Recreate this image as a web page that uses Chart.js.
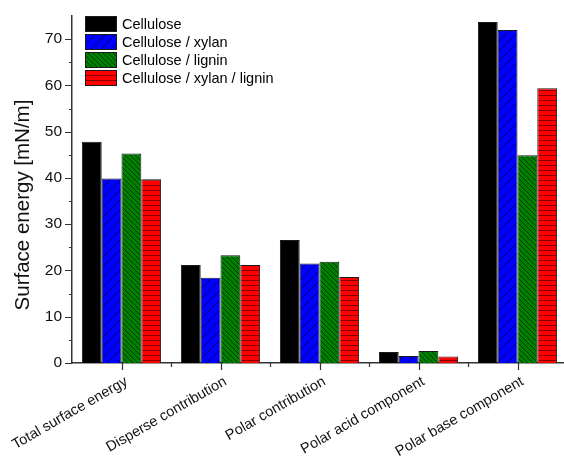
<!DOCTYPE html>
<html>
<head>
<meta charset="utf-8">
<script src="https://cdn.jsdelivr.net/npm/chart.js@4.4.1/dist/chart.umd.min.js"></script>
<style>
  html, body { margin: 0; padding: 0; background: #fff; overflow: hidden; }
  #chart { display: block; }
</style>
</head>
<body>
<canvas id="chart" width="567" height="458"></canvas>
<script>
// 카테고리 / 시리즈 데이터
const categories = ['Total surface energy', 'Disperse contribution', 'Polar contribution', 'Polar acid component', 'Polar base component'];
const seriesNames = ['Cellulose', 'Cellulose / xylan', 'Cellulose / lignin', 'Cellulose / xylan / lignin'];
const cellulose = [47.8, 21.2, 26.6, 2.4, 73.7];
const celluloseXylan = [39.9, 18.4, 21.5, 1.5, 72.0];
const celluloseLignin = [45.3, 23.3, 21.9, 2.6, 44.9];
const celluloseXylanLignin = [39.7, 21.2, 18.6, 1.4, 59.4];
const yTicks = [0, 10, 20, 30, 40, 50, 60, 70];
const yTitle = 'Surface energy [mN/m]';

const FONT = 'Liberation Sans, Arial, sans-serif';

/**
 * 해칭 패턴 생성
 */
function makePattern(bg, kind) {
    const size = kind === 'fwd' ? 10 : 5;
    const c = document.createElement('canvas');
    c.width = size;
    c.height = size;
    const g = c.getContext('2d');
    g.fillStyle = bg;
    g.fillRect(0, 0, size, size);
    g.lineWidth = 1;
    if (kind === 'fwd') {
        g.strokeStyle = 'rgba(0,0,40,0.75)';
        g.beginPath();
        g.moveTo(-1, size + 1); g.lineTo(size + 1, -1);
        g.moveTo(-1, 1); g.lineTo(1, -1);
        g.moveTo(size - 1, size + 1); g.lineTo(size + 1, size - 1);
        g.stroke();
    } else if (kind === 'back') {
        g.strokeStyle = 'rgba(0,30,0,0.7)';
        g.beginPath();
        g.moveTo(-1, -1); g.lineTo(size + 1, size + 1);
        g.moveTo(size - 1, -1); g.lineTo(size + 1, 1);
        g.moveTo(-1, size - 1); g.lineTo(1, size + 1);
        g.stroke();
    } else if (kind === 'horiz') {
        g.fillStyle = 'rgba(90,0,0,0.75)';
        g.fillRect(0, 0, size, 1);
    }
    return g.createPattern(c, 'repeat');
}

const ctx = document.getElementById('chart').getContext('2d');
const fills = [
    '#000000',
    makePattern('#0000ff', 'fwd'),
    makePattern('#008000', 'back'),
    makePattern('#ff0000', 'horiz')
];
const seriesValues = [cellulose, celluloseXylan, celluloseLignin, celluloseXylanLignin];

const datasets = seriesNames.map((name, i) => ({
    label: name,
    data: seriesValues[i],
    backgroundColor: fills[i],
    borderColor: '#1a1a1a',
    borderWidth: 1,
    borderSkipped: 'bottom',
    categoryPercentage: 0.8,
    barPercentage: 1.0
}));

// 축 눈금 (주/보조) + y축 제목 그리기
const axisPlugin = {
    id: 'axisTicks',
    afterDraw(chart) {
        const c = chart.ctx;
        const x = chart.scales.x;
        const y = chart.scales.y;
        const area = chart.chartArea;
        c.save();
        c.strokeStyle = '#333';
        c.lineWidth = 1.2;
        c.beginPath();
        for (let v = 0; v <= 70; v += 5) {
            const py = Math.round(y.getPixelForValue(v)) + 0.5;
            const len = v % 10 === 0 ? 7 : 3;
            c.moveTo(area.left, py);
            c.lineTo(area.left - len, py);
        }
        for (let i = 0; i < categories.length; i++) {
            const px = Math.round(x.getPixelForValue(i)) + 0.5;
            c.moveTo(px, area.bottom);
            c.lineTo(px, area.bottom + 7);
            const bx = Math.round(x.getPixelForValue(i + 0.5)) + 0.5;
            c.moveTo(bx, area.bottom);
            c.lineTo(bx, area.bottom + 4);
        }
        c.stroke();

        // y축 제목
        c.translate(23, 205);
        c.rotate(-Math.PI / 2);
        c.font = '20.5px ' + FONT;
        c.fillStyle = '#111';
        c.textAlign = 'center';
        c.textBaseline = 'middle';
        c.fillText(yTitle, 0, 0);
        c.restore();
    }
};

// 플롯 내부 범례
const legendPlugin = {
    id: 'insideLegend',
    afterDraw(chart) {
        const c = chart.ctx;
        const area = chart.chartArea;
        const x0 = area.left + 13;
        let y0 = area.top;
        c.save();
        c.font = '14.5px ' + FONT;
        c.textBaseline = 'middle';
        chart.data.datasets.forEach((ds) => {
            c.fillStyle = ds.backgroundColor;
            c.fillRect(x0, y0, 32, 16);
            c.strokeStyle = '#1a1a1a';
            c.lineWidth = 1;
            c.strokeRect(x0 + 0.5, y0 + 0.5, 31, 15);
            c.fillStyle = '#000';
            c.fillText(ds.label, x0 + 37, y0 + 8.5);
            y0 += 18;
        });
        c.restore();
    }
};

new Chart(ctx, {
    type: 'bar',
    data: { labels: categories, datasets: datasets },
    options: {
        responsive: false,
        animation: false,
        devicePixelRatio: 1,
        layout: { padding: { top: 16, left: 0, right: 0, bottom: 0 } },
        plugins: {
            legend: { display: false },
            tooltip: { enabled: false }
        },
        scales: {
            x: {
                grid: { display: false, drawTicks: false },
                border: { display: true, color: '#333', width: 1.5 },
                ticks: {
                    color: '#111',
                    font: { family: FONT, size: 14.5 },
                    maxRotation: 30,
                    minRotation: 30,
                    padding: 10,
                    labelOffset: 5
                },
                afterFit(scale) {
                    scale.height = 95;
                    scale.paddingLeft = 0;
                    scale.paddingRight = 0;
                }
            },
            y: {
                min: 0,
                max: 75,
                grid: { display: false, drawTicks: false },
                border: { display: true, color: '#333', width: 1.5 },
                afterBuildTicks(scale) {
                    scale.ticks = yTicks.map(v => ({ value: v }));
                },
                ticks: {
                    color: '#111',
                    font: { family: FONT, size: 15.5 },
                    padding: 10
                },
                afterFit(scale) {
                    scale.width = 72;
                    scale.paddingTop = 0;
                    scale.paddingBottom = 0;
                }
            }
        }
    },
    plugins: [axisPlugin, legendPlugin]
});
</script>
</body>
</html>
